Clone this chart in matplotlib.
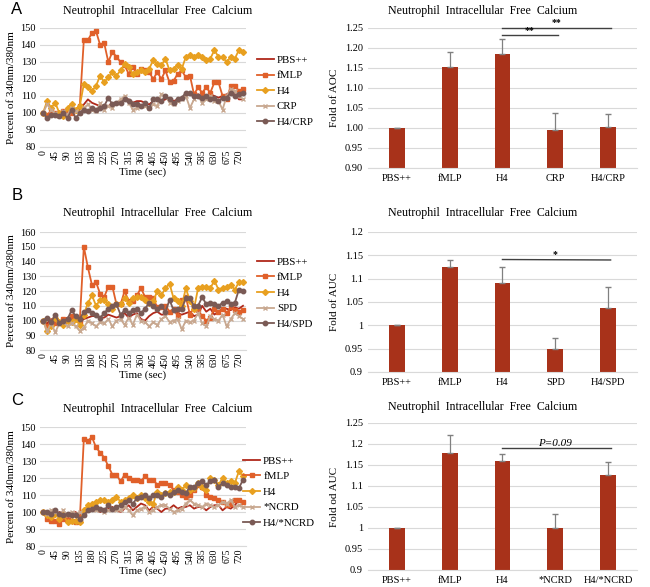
import numpy as np
import matplotlib
matplotlib.use('Agg')
import matplotlib.pyplot as plt

plt.rcParams['font.family'] = ['Liberation Serif', 'DejaVu Serif']

# time points (sec), one every 15 s
time_sec = list(range(0, 750, 15))

# ---- panel A (CRP) ----
a_names = ['PBS++', 'fMLP', 'H4', 'CRP', 'H4/CRP']
a_pbs = [100, 98, 99, 100, 99, 100, 101, 100, 101, 102, 105, 108, 106, 105, 104, 103, 104, 106, 105, 107,
         108, 108, 106, 107, 107, 106, 105, 107, 108, 107, 108, 109, 107, 108, 109, 110, 111, 110, 111, 109,
         110, 111, 110, 109, 110, 111, 112, 111, 108, 108]
a_fmlp = [100, 99, 101, 100, 99, 101, 102, 100, 102, 104, 143, 143, 147, 148, 140, 141, 130, 136, 133, 130,
          128, 123, 127, 123, 126, 125, 124, 120, 124, 120, 125, 118, 119, 123, 125, 121, 122, 111, 115, 112,
          115, 112, 118, 118, 110, 108, 116, 116, 113, 114]
a_h4 = [100, 107, 103, 106, 100, 98, 103, 105, 102, 104, 117, 115, 113, 116, 122, 118, 121, 124, 122, 125,
        129, 127, 123, 124, 125, 124, 126, 131, 129, 128, 132, 125, 126, 128, 126, 133, 134, 133, 134, 133,
        131, 132, 137, 133, 133, 130, 133, 132, 137, 136]
a_crp = [100, 105, 102, 100, 98, 101, 99, 103, 101, 100, 103, 105, 102, 101, 106, 102, 104, 103, 106, 108,
         110, 106, 102, 103, 104, 104, 103, 105, 104, 111, 110, 106, 105, 107, 108, 110, 103, 108, 110, 106,
         108, 110, 107, 107, 102, 110, 114, 113, 110, 108]
a_h4crp = [100, 97, 99, 99, 98, 100, 97, 102, 97, 100, 102, 101, 103, 102, 103, 104, 109, 105, 106, 106,
           108, 107, 105, 105, 104, 106, 103, 108, 108, 107, 110, 108, 106, 108, 109, 112, 112, 110, 110, 109,
           110, 108, 109, 107, 109, 109, 112, 110, 111, 112]

# ---- panel B (SPD) ----
b_names = ['PBS++', 'fMLP', 'H4', 'SPD', 'H4/SPD']
b_pbs = [100, 98, 101, 99, 98, 100, 102, 101, 100, 99, 101, 102, 103, 103, 102, 102, 104, 103, 102, 103,
         105, 102, 104, 105, 101, 100, 103, 105, 106, 104, 104, 106, 107, 105, 104, 105, 106, 103, 104, 110,
         106, 108, 104, 106, 108, 108, 107, 109, 108, 110]
b_fmlp = [100, 96, 100, 98, 99, 101, 100, 103, 102, 99, 150, 136, 124, 126, 118, 116, 123, 123, 111, 111,
          120, 113, 113, 117, 122, 116, 116, 115, 109, 109, 110, 106, 108, 103, 114, 116, 104, 109, 107, 103,
          100, 102, 108, 106, 108, 105, 109, 107, 106, 107]
b_h4 = [100, 93, 96, 102, 99, 97, 100, 99, 101, 97, 104, 112, 117, 110, 114, 114, 111, 108, 111, 111,
        115, 112, 115, 116, 116, 114, 112, 113, 120, 117, 122, 125, 115, 113, 110, 122, 113, 108, 122, 123,
        123, 122, 127, 121, 122, 123, 124, 121, 126, 126]
b_spd = [100, 93, 98, 92, 98, 99, 96, 98, 96, 93, 95, 100, 98, 96, 99, 98, 101, 96, 100, 101,
         97, 102, 97, 104, 100, 99, 96, 99, 97, 101, 103, 99, 100, 101, 94, 100, 99, 100, 105, 98,
         96, 103, 101, 100, 104, 96, 101, 105, 103, 101]
b_h4spd = [100, 102, 99, 104, 98, 100, 101, 107, 103, 101, 106, 107, 105, 104, 102, 105, 108, 110, 111, 104,
           107, 105, 107, 108, 105, 108, 112, 110, 108, 110, 106, 114, 107, 108, 108, 115, 115, 110, 110, 116,
           111, 112, 111, 110, 112, 113, 111, 112, 121, 120]

# ---- panel C (*NCRD) ----
c_names = ['PBS++', 'fMLP', 'H4', '*NCRD', 'H4/*NCRD']
c_pbs = [100, 99, 98, 98, 100, 99, 98, 99, 100, 97, 99, 100, 101, 101, 100, 101, 102, 103, 101, 100,
         102, 104, 101, 103, 105, 104, 101, 103, 102, 100, 102, 102, 104, 102, 103, 103, 104, 102, 103, 103,
         101, 103, 104, 104, 101, 103, 102, 104, 107, 106]
c_fmlp = [100, 96, 95, 95, 93, 96, 97, 95, 94, 95, 143, 142, 144, 138, 135, 132, 127, 122, 122, 118,
          122, 120, 119, 119, 118, 121, 119, 119, 116, 117, 117, 116, 113, 112, 110, 109, 110, 113, 116, 115,
          110, 109, 108, 107, 106, 104, 105, 107, 107, 106]
c_h4 = [100, 98, 97, 99, 96, 98, 94, 95, 95, 94, 101, 104, 105, 106, 107, 107, 106, 107, 109, 106,
        107, 108, 110, 108, 110, 108, 106, 105, 112, 110, 111, 112, 112, 115, 113, 116, 113, 114, 117, 115,
        113, 120, 119, 116, 120, 117, 118, 117, 124, 121]
c_ncrd = [100, 99, 101, 100, 99, 101, 98, 100, 99, 100, 98, 101, 102, 101, 101, 100, 101, 102, 101, 101,
          103, 101, 98, 101, 102, 103, 100, 101, 103, 104, 104, 102, 100, 101, 102, 105, 107, 105, 104, 103,
          105, 104, 103, 104, 106, 105, 107, 103, 104, 103]
c_h4ncrd = [100, 100, 99, 101, 99, 98, 99, 98, 98, 96, 98, 101, 102, 103, 102, 101, 104, 102, 103, 104,
            106, 107, 105, 108, 109, 110, 108, 110, 110, 109, 111, 110, 112, 113, 112, 111, 115, 115, 117, 118,
            116, 118, 119, 115, 117, 116, 115, 115, 114, 119]

# ---- bar data (fold of AUC, mean and +SD) ----
a_fold = [1.000, 1.152, 1.185, 0.995, 1.003]
a_err = [0.001, 0.037, 0.038, 0.043, 0.031]
b_fold = [1.000, 1.125, 1.091, 0.950, 1.037]
b_err = [0.001, 0.016, 0.033, 0.022, 0.045]
c_fold = [1.000, 1.178, 1.160, 1.000, 1.127]
c_err = [0.001, 0.044, 0.017, 0.033, 0.029]

line_colors = ['#B0281A', '#E0602A', '#E8A020', '#C8A890', '#7A5A55']
line_markers = [None, 's', 'D', 'x', 'o']
marker_sizes = [0, 3, 3, 3.5, 3.2]
bar_color = '#A8321A'
grid_color = '#D9D9D9'
title = 'Neutrophil  Intracellular  Free  Calcium'

fig = plt.figure(figsize=(6.5, 5.87), dpi=100)


def line_panel(rect, series, names, ylim, letter, letter_y, title_y, leg_x, leg_y):
    ax = fig.add_axes(rect)
    for vals, name, col, mk, ms in zip(series, names, line_colors, line_markers, marker_sizes):
        ax.plot(time_sec, vals, color=col, lw=1.3, marker=mk, ms=ms, mew=1.0, label=name)
    ax.set_xlim(-10, 745)
    ax.set_ylim(*ylim)
    ax.set_yticks(np.arange(ylim[0], ylim[1] + 1, 10))
    ax.set_xticks(range(0, 721, 45))
    ax.tick_params(axis='x', labelrotation=90, length=0, labelsize=7, pad=2)
    ax.tick_params(axis='y', length=0, labelsize=7.5, pad=3)
    ax.grid(axis='y', color=grid_color, lw=0.8)
    ax.set_axisbelow(True)
    for s in ['top', 'right', 'left']:
        ax.spines[s].set_visible(False)
    ax.spines['bottom'].set_color(grid_color)
    ax.set_xlabel('Time (sec)', fontsize=8, labelpad=2)
    ax.set_ylabel('Percent of 340nm/380nm', fontsize=8, labelpad=3)
    fig.text(0.243, title_y, title, ha='center', va='center', fontsize=8.6)
    fig.text(0.026, letter_y, letter, ha='center', va='center', fontsize=12, family='Liberation Sans')
    fig.legend(handles=ax.get_lines(), loc='upper left', bbox_to_anchor=(leg_x, leg_y),
               frameon=False, fontsize=7.8, handlelength=1.6, handletextpad=0.25, labelspacing=0.55,
               borderaxespad=0, borderpad=0)
    return ax


def bar_panel(rect, fold, err, names, ylim, step, fmt, ylabel, title_y):
    ax = fig.add_axes(rect)
    x = np.arange(len(names))
    ax.bar(x, fold, width=0.3, color=bar_color, zorder=2,
           yerr=[np.zeros(len(err)), err], ecolor='#808080', capsize=2, error_kw={'elinewidth': 0.9})
    ax.set_xlim(-0.55, 4.55)
    ax.set_ylim(*ylim)
    ticks = np.arange(ylim[0], ylim[1] + 1e-6, step)
    ax.set_yticks(ticks)
    ax.set_yticklabels([fmt(t) for t in ticks])
    ax.set_xticks(x)
    ax.set_xticklabels(names)
    ax.tick_params(axis='both', length=0, labelsize=7.5)
    ax.tick_params(axis='x', pad=4)
    ax.grid(axis='y', color=grid_color, lw=0.8)
    ax.set_axisbelow(True)
    for s in ['top', 'right', 'left']:
        ax.spines[s].set_visible(False)
    ax.spines['bottom'].set_color(grid_color)
    ax.set_ylabel(ylabel, fontsize=8, labelpad=4)
    fig.text(0.743, title_y, title, ha='center', va='center', fontsize=8.6)
    return ax


def general(t):
    return ('%.2f' % t).rstrip('0').rstrip('.')


# row A
line_panel([0.062, 0.7496, 0.316, 0.2027], [a_pbs, a_fmlp, a_h4, a_crp, a_h4crp], a_names,
           (80, 150), 'A', 0.983, 0.981, 0.395, 0.906)
ax = bar_panel([0.566, 0.7138, 0.414, 0.2385], a_fold, a_err, a_names, (0.90, 1.25), 0.05,
               lambda t: '%.2f' % t, 'Fold of AOC', 0.981)
ax.plot([2, 3.05], [1.233, 1.233], color='#404040', lw=1, clip_on=False)
ax.text(2.52, 1.2335, '**', ha='center', va='bottom', fontsize=7, weight='bold')
ax.plot([2, 4.05], [1.251, 1.251], color='#404040', lw=1, clip_on=False)
ax.text(3.02, 1.2515, '**', ha='center', va='bottom', fontsize=7, weight='bold')

# row B
line_panel([0.062, 0.4037, 0.316, 0.201], [b_pbs, b_fmlp, b_h4, b_spd, b_h4spd], b_names,
           (80, 160), 'B', 0.667, 0.637, 0.395, 0.562)
ax = bar_panel([0.566, 0.3663, 0.414, 0.2385], b_fold, b_err, b_names, (0.9, 1.2), 0.05,
               general, 'Fold of AUC', 0.637)
ax.plot([2, 4.05], [1.141, 1.140], color='#404040', lw=1)
ax.text(3.0, 1.142, '*', ha='center', va='bottom', fontsize=7, weight='bold')

# row C
line_panel([0.062, 0.0698, 0.316, 0.2027], [c_pbs, c_fmlp, c_h4, c_ncrd, c_h4ncrd], c_names,
           (80, 150), 'C', 0.318, 0.303, 0.374, 0.223)
ax = bar_panel([0.566, 0.029, 0.414, 0.2504], c_fold, c_err, c_names, (0.9, 1.25), 0.05,
               general, 'Fold od AUC', 0.307)
ax.plot([2, 4.05], [1.19, 1.19], color='#404040', lw=1)
ax.text(3.0, 1.191, 'P=0.09', ha='center', va='bottom', fontsize=8, style='italic')

fig.savefig('out.png', dpi=100)
